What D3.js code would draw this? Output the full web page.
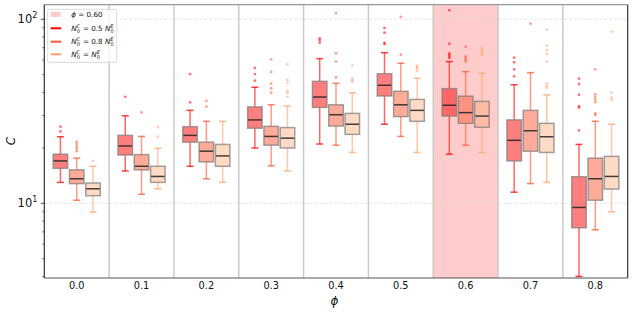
<!DOCTYPE html>
<html>
<head>
<meta charset="utf-8">
<script src="https://cdn.jsdelivr.net/npm/d3@7/dist/d3.min.js"></script>
<style>
  body { margin: 0; background: #fff; }
  svg { display: block; font-family: "DejaVu Sans", sans-serif; }
</style>
</head>
<body>
<div id="chart"></div>
<script>
// phi values on the x axis
const phis = ["0.0", "0.1", "0.2", "0.3", "0.4", "0.5", "0.6", "0.7", "0.8"];
const highlightPhi = "0.6";
const seriesNames = ["0.5", "0.8", "1"];
const seriesColors = ["#ff0000", "#ff5733", "#ffa36b"];

// box stats per phi: [whisker low, q1, median, q3, whisker high]
const boxesHalf = [
    [13.0, 15.5, 17.0, 18.5, 23.0],
    [15.0, 18.3, 20.5, 23.4, 29.9],
    [15.9, 21.5, 23.4, 26.1, 32.0],
    [20.0, 25.6, 28.4, 33.4, 42.7],
    [21.0, 33.2, 37.8, 46.0, 61.1],
    [26.9, 38.3, 43.8, 50.6, 65.9],
    [18.5, 29.8, 34.1, 42.0, 58.9],
    [11.5, 17.0, 22.0, 28.4, 44.1],
    [4.01, 7.37, 9.5, 13.95, 20.9]
];
const boxesEight = [
    [10.4, 12.8, 13.6, 15.2, 17.6],
    [11.2, 15.2, 15.9, 18.4, 23.1],
    [13.6, 16.8, 19.2, 21.5, 27.9],
    [16.0, 20.7, 23.1, 26.2, 34.3],
    [20.7, 26.3, 30.3, 34.3, 44.9],
    [23.1, 29.6, 34.3, 40.6, 57.7],
    [20.7, 27.2, 31.1, 38.2, 51.9],
    [12.8, 19.2, 24.8, 32.0, 51.3],
    [7.18, 10.4, 13.6, 17.6, 27.9]
];
const boxesEqual = [
    [8.97, 11.0, 12.0, 12.9, 15.9],
    [12.0, 13.0, 14.0, 15.9, 19.9],
    [13.0, 15.9, 18.1, 20.9, 27.9],
    [15.0, 20.0, 22.6, 25.8, 33.8],
    [18.9, 23.7, 26.9, 30.8, 39.9],
    [18.9, 27.9, 32.0, 36.7, 47.8],
    [18.9, 25.9, 29.8, 35.8, 50.9],
    [13.0, 18.9, 23.0, 27.2, 38.8],
    [9.0, 11.96, 14.0, 18.0, 26.9]
];

// fliers per phi
const fliersHalf = [
    [24.6, 26.1],
    [37.9],
    [35.4, 50.4],
    [46.4, 50.4, 54.4],
    [74.6, 77, 78.8],
    [73.4, 74.5, 84.6, 89.7],
    [61.6, 62.8, 64.1, 65.3, 73.7, 111.9],
    [49.0, 53.5, 58.4, 61.9],
    [24.9, 33.1, 33.7, 38.9, 44.5, 47.6]
];
const fliersEight = [
    [19.2, 19.8, 20.3, 21.0, 21.6],
    [31.2],
    [33.5, 36.0],
    [39.9, 42.2, 44.7, 51.7, 60.6],
    [48.4, 58.9, 65.3, 108],
    [64.2, 103],
    [59.0, 60.3, 61.6, 62.8, 71.0],
    [94.6],
    [30.2, 30.8, 35.5, 36.7, 37.9, 39.1, 53.5]
];
const fliersEqual = [
    [17.0],
    [23.0, 26.0],
    [],
    [37.9, 39.8, 40.9, 45.0, 46.8, 56.9],
    [45.7, 46.6, 47.7, 56.0],
    [52.5, 54.0, 55.0, 55.7],
    [64.1, 66.0, 67.6, 69.6],
    [42.5, 43.4, 44.9, 58.9, 64.8, 68.0, 71.9, 87.8],
    [36.5, 37.5, 39.9, 85.6]
];

const yMajor = [10, 100];
const yMinor = [4, 5, 6, 7, 8, 9, 20, 30, 40, 50, 60, 70, 80, 90];

const allBoxes = [boxesHalf, boxesEight, boxesEqual];
const allFliers = [fliersHalf, fliersEight, fliersEqual];

const W = 634, H = 313;
const margin = { top: 4.7, right: 6.3, bottom: 35, left: 44.3 };
const plotW = W - margin.left - margin.right;
const plotH = H - margin.top - margin.bottom;

const svg = d3.select("#chart").append("svg")
    .attr("width", W)
    .attr("height", H);

const g = svg.append("g")
    .attr("transform", `translate(${margin.left},${margin.top})`);

const x = d3.scaleBand().domain(phis).range([0, plotW]).padding(0);
const offset = d3.scalePoint().domain([0, 1, 2]).range([-16.3, 16.3]);
const y = d3.scaleLog().domain([3.93, 120]).range([plotH, 0]);
const boxW = 14.5;
const capW = 7;

// highlighted phi
g.append("rect")
    .attr("x", x(highlightPhi))
    .attr("y", 0)
    .attr("width", x.bandwidth())
    .attr("height", plotH)
    .attr("fill", "#ffcccc");

// dashed grid
g.selectAll(".grid")
    .data(yMajor)
    .join("line")
    .attr("x1", 0).attr("x2", plotW)
    .attr("y1", d => y(d)).attr("y2", d => y(d))
    .attr("stroke", "#dddddd")
    .attr("stroke-width", 0.8)
    .attr("stroke-dasharray", "3,2");

// group separators
g.selectAll(".sep")
    .data(phis.slice(1))
    .join("line")
    .attr("x1", d => x(d)).attr("x2", d => x(d))
    .attr("y1", 0).attr("y2", plotH)
    .attr("stroke", "#c8c8c8")
    .attr("stroke-width", 1.4);

allBoxes.forEach((boxes, s) => {
    const col = seriesColors[s];
    boxes.forEach((b, i) => {
        const cx = x(phis[i]) + x.bandwidth() / 2 + offset(s);
        const [lo, q1, med, q3, hi] = b;
        // whiskers
        g.append("line")
            .attr("x1", cx).attr("x2", cx)
            .attr("y1", y(q3)).attr("y2", y(hi))
            .attr("stroke", col).attr("stroke-opacity", 0.6).attr("stroke-width", 1.5);
        g.append("line")
            .attr("x1", cx).attr("x2", cx)
            .attr("y1", y(q1)).attr("y2", y(lo))
            .attr("stroke", col).attr("stroke-opacity", 0.6).attr("stroke-width", 1.5);
        [lo, hi].forEach(v => {
            g.append("line")
                .attr("x1", cx - capW / 2).attr("x2", cx + capW / 2)
                .attr("y1", y(v)).attr("y2", y(v))
                .attr("stroke", col).attr("stroke-opacity", 0.75).attr("stroke-width", 1.5);
        });
        // box
        g.append("rect")
            .attr("x", cx - boxW / 2)
            .attr("y", y(q3))
            .attr("width", boxW)
            .attr("height", y(q1) - y(q3))
            .attr("fill", col).attr("fill-opacity", s === 2 ? 0.4 : 0.5)
            .attr("stroke", "#7a7a7a").attr("stroke-opacity", 0.7).attr("stroke-width", 1.5);
        g.append("line")
            .attr("x1", cx - boxW / 2 + 0.5).attr("x2", cx + boxW / 2 - 0.5)
            .attr("y1", y(med)).attr("y2", y(med))
            .attr("stroke", "#222").attr("stroke-opacity", 0.85).attr("stroke-width", 1.5);
        // fliers
        g.selectAll(null)
            .data(allFliers[s][i])
            .join("circle")
            .attr("cx", cx)
            .attr("cy", d => y(d))
            .attr("r", 1.4)
            .attr("fill", col)
            .attr("fill-opacity", 0.55);
    });
});

// spines
g.append("line").attr("x1", 0).attr("x2", plotW).attr("y1", 0).attr("y2", 0)
    .attr("stroke", "#999").attr("stroke-width", 1.2);
g.append("line").attr("x1", plotW).attr("x2", plotW).attr("y1", 0).attr("y2", plotH)
    .attr("stroke", "#333").attr("stroke-width", 1.2);
g.append("line").attr("x1", 0).attr("x2", plotW).attr("y1", plotH).attr("y2", plotH)
    .attr("stroke", "#555").attr("stroke-width", 1.2);
g.append("line").attr("x1", 0).attr("x2", 0).attr("y1", 0).attr("y2", plotH)
    .attr("stroke", "#333").attr("stroke-width", 1.2);

// y ticks
g.selectAll(".ytmaj")
    .data(yMajor)
    .join("line")
    .attr("x1", -3.5).attr("x2", 0)
    .attr("y1", d => y(d)).attr("y2", d => y(d))
    .attr("stroke", "#333").attr("stroke-width", 0.9);
g.selectAll(".ytmin")
    .data(yMinor)
    .join("line")
    .attr("x1", -2).attr("x2", 0)
    .attr("y1", d => y(d)).attr("y2", d => y(d))
    .attr("stroke", "#333").attr("stroke-width", 0.7);

const ylab = g.selectAll(".ylab")
    .data(yMajor)
    .join("text")
    .attr("x", -7)
    .attr("y", d => y(d) + 4)
    .attr("text-anchor", "end")
    .attr("font-size", 11.5)
    .attr("fill", "#111");
ylab.append("tspan").text("10");
ylab.append("tspan").attr("dy", -5).attr("font-size", 8).text(d => Math.round(Math.log10(d)));

// x tick labels
g.selectAll(".xlab")
    .data(phis)
    .join("text")
    .attr("x", d => x(d) + x.bandwidth() / 2)
    .attr("y", plotH + 11)
    .attr("text-anchor", "middle")
    .attr("font-size", 9.8)
    .attr("fill", "#111")
    .text(d => d);

// axis labels
svg.append("text")
    .attr("x", 334.5)
    .attr("y", 305)
    .attr("text-anchor", "middle")
    .attr("font-size", 12)
    .attr("font-style", "italic")
    .attr("fill", "#111")
    .text("\u03d5");
svg.append("text")
    .attr("transform", "translate(15,141) rotate(-90)")
    .attr("text-anchor", "middle")
    .attr("font-size", 12)
    .attr("font-style", "italic")
    .attr("fill", "#111")
    .text("C");

// legend
const lg = svg.append("g").attr("transform", "translate(47.7,9.3)");
lg.append("rect")
    .attr("width", 69).attr("height", 53)
    .attr("rx", 1.5)
    .attr("fill", "#fff").attr("fill-opacity", 0.8)
    .attr("stroke", "#d0d0d0").attr("stroke-width", 0.8);
lg.append("rect")
    .attr("x", 3).attr("y", 2.6).attr("width", 10).attr("height", 5)
    .attr("fill", "#ffcccc");
lg.append("text")
    .attr("x", 23.5).attr("y", 7.9)
    .attr("font-size", 7.2).attr("fill", "#111")
    .html(`<tspan font-style="italic">\u03d5</tspan> = 0.60`);

const legendY = [19, 32.4, 45];
seriesNames.forEach((name, s) => {
    lg.append("line")
        .attr("x1", 3).attr("x2", 13.5)
        .attr("y1", legendY[s]).attr("y2", legendY[s])
        .attr("stroke", seriesColors[s]).attr("stroke-width", 2);
    const t = lg.append("text")
        .attr("x", 23.5).attr("y", legendY[s] + 2.5)
        .attr("font-size", 7.2).attr("fill", "#111");
    t.append("tspan").attr("font-style", "italic").text("N");
    t.append("tspan").attr("font-size", 5).attr("font-style", "italic").attr("dy", -3).text("C");
    t.append("tspan").attr("font-size", 5).attr("dx", -3.4).attr("dy", 5).text("0");
    t.append("tspan").attr("dy", -2).attr("dx", 0.8).text(name === "1" ? " = " : ` = ${name} `);
    t.append("tspan").attr("font-style", "italic").text("N");
    t.append("tspan").attr("font-size", 5).attr("font-style", "italic").attr("dy", -3).text("E");
    t.append("tspan").attr("font-size", 5).attr("dx", -3.1).attr("dy", 5).text("0");
});
</script>
</body>
</html>
